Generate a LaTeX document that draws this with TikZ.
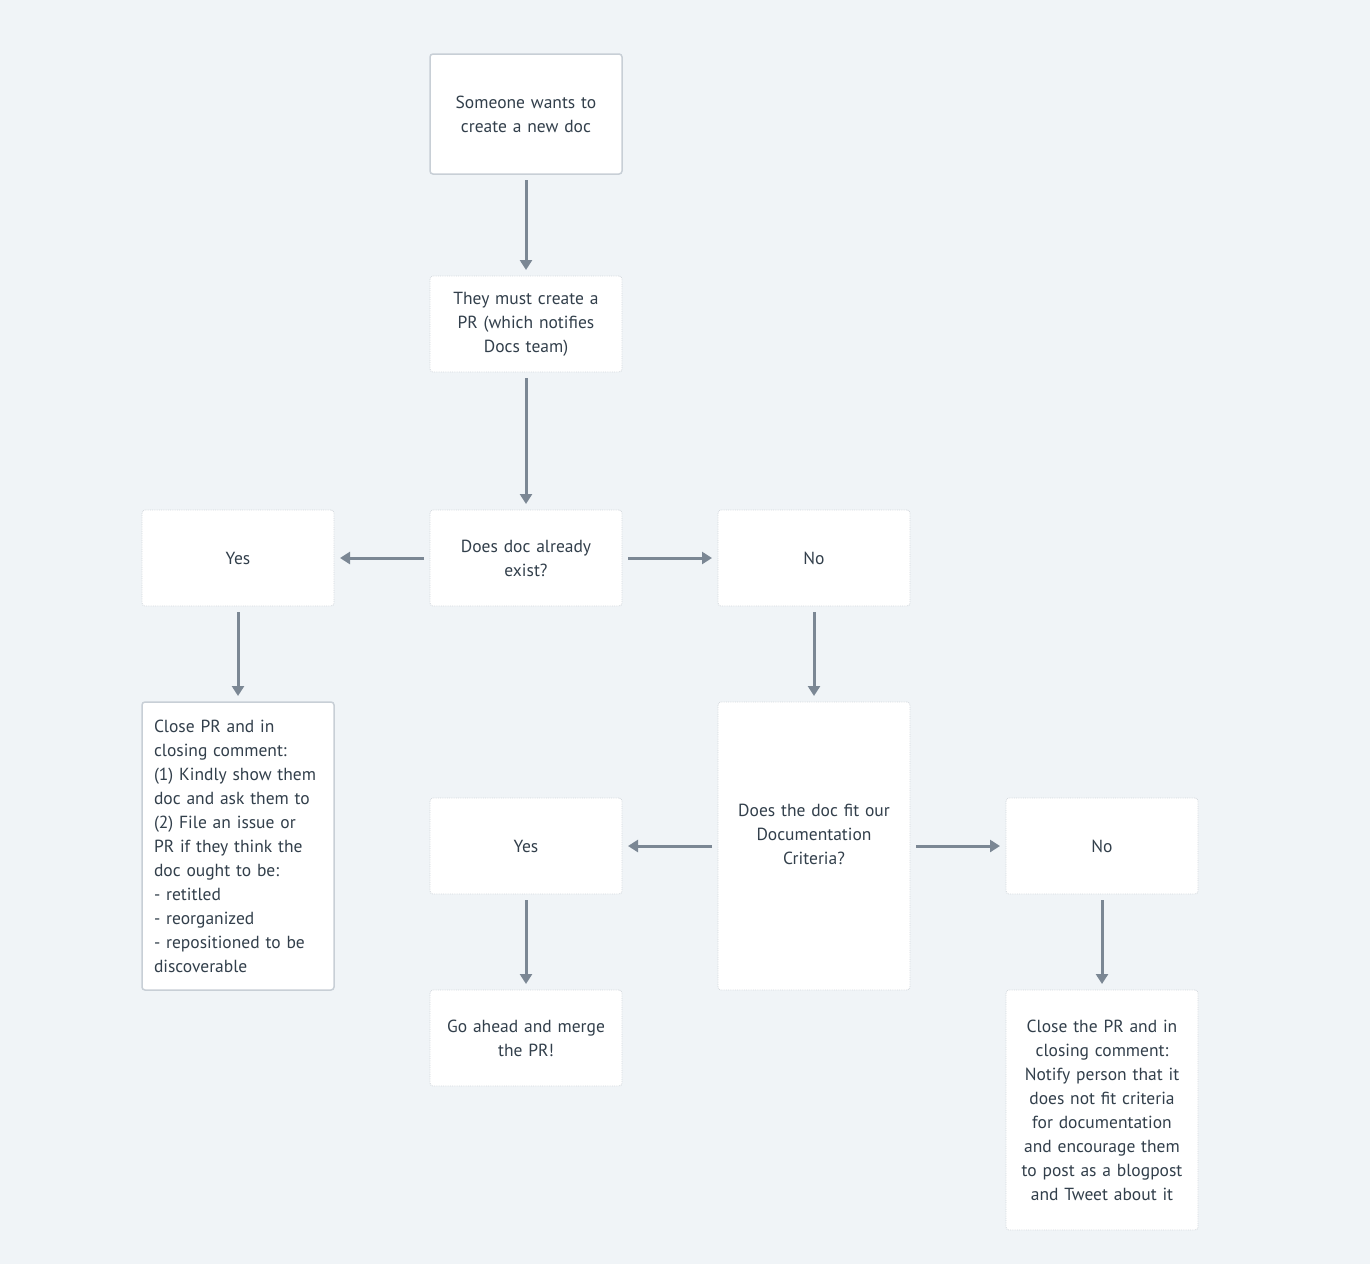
\documentclass[tikz,border=0pt]{standalone}
\usepackage{fontspec}
\setmainfont{PT Sans}
\usetikzlibrary{positioning,arrows.meta}
\definecolor{bg}{HTML}{F0F4F7}
\definecolor{arrowgray}{HTML}{7B8794}
\definecolor{textgray}{HTML}{323F4B}
\definecolor{edgegray}{HTML}{C8CFD6}
\definecolor{dotgray}{HTML}{D3D8DD}

\begin{document}
\begin{tikzpicture}[x=1pt,y=1pt,node distance=96pt,
    box/.style={fill=white,draw=dotgray,densely dotted,line width=0.8pt,rounded corners=3pt,
      minimum width=192pt,minimum height=96pt,text width=170pt,inner sep=0pt,outer sep=0pt,
      align=center,text=textgray,font=\fontsize{17.5}{24}\selectfont},
    framed/.style={box,draw=edgegray,solid,line width=1.5pt},
    arr/.style={draw=arrowgray,line width=3pt,-{Triangle[width=12pt,length=10pt]},
      shorten >=6pt,shorten <=6pt}]
      \fill[bg] (0,0) rectangle (1370,-1264);
      \useasboundingbox (0,0) rectangle (1370,-1264);
      %% Main column
      \node[framed,minimum height=120pt] (1) at (526,-114) {Someone wants to\\create a new doc};
      \node[box,below=102pt of 1] (2) {They must create a\\PR (which notifies\\Docs team)};
      \node[box,below=138pt of 2] (3) {Does doc already\\exist?};
      %% First answer
      \node[box,left=of 3] (4) {Yes};
      \node[box,right=of 3] (5) {No};
      \node[framed,below=of 4,minimum height=288pt,text width=168pt,align=left] (6) {Close PR and in\\closing comment:\\(1) Kindly show them\\doc and ask them to\\(2) File an issue or\\PR if they think the\\doc ought to be:\\- retitled\\- reorganized\\- repositioned to be\\discoverable};
      \node[box,below=of 5,minimum height=288pt] (7) {Does the doc fit our\\Documentation\\Criteria?\\\mbox{}};
      %% Second answer
      \node[box,left=of 7] (8) {Yes};
      \node[box,right=of 7] (9) {No};
      \node[box,below=of 8] (10) {Go ahead and merge\\the PR!};
      \node[box,below=of 9,minimum height=240pt] (11) {Close the PR and in\\closing comment:\\Notify person that it\\does not fit criteria\\for documentation\\and encourage them\\to post as a blogpost\\and Tweet about it};
      %% Vertical arrows
      \draw[arr] (1) -- (2);
      \draw[arr] (2) -- (3);
      \draw[arr] (4) -- (6);
      \draw[arr] (5) -- (7);
      \draw[arr] (8) -- (10);
      \draw[arr] (9) -- (11);
      %% Horizontal arrows
      \draw[arr] (3) -- (4);
      \draw[arr] (3) -- (5);
      \draw[arr] (7) -- (8);
      \draw[arr] (7) -- (9);
\end{tikzpicture}
\end{document}
